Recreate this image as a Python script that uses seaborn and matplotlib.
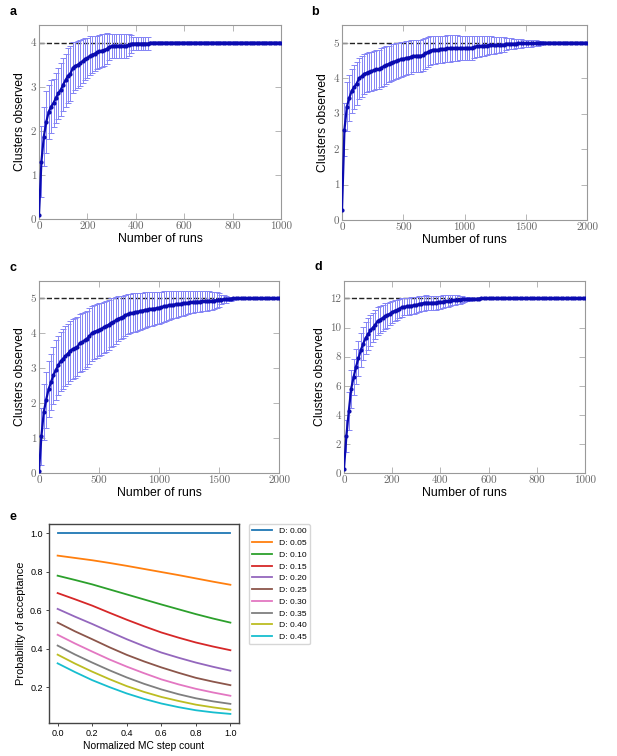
import numpy as np
import pandas as pd
import matplotlib
matplotlib.use("Agg")
import matplotlib.pyplot as plt
import seaborn as sns

# ---- panels a-d: clusters observed vs number of runs (mean and std) ----
a_runs = list(range(0, 1001, 10))
a_mean = [0.10, 1.30, 1.87, 2.20, 2.43, 2.55, 2.63, 2.75, 2.85, 2.93,
          3.05, 3.15, 3.25, 3.30, 3.43, 3.47, 3.50, 3.53, 3.58, 3.63,
          3.65, 3.70, 3.73, 3.75, 3.78, 3.80, 3.82, 3.83, 3.86, 3.90,
          3.92, 3.93, 3.93, 3.93, 3.93, 3.93, 3.93, 3.95, 3.97, 3.98,
          3.98, 3.98, 3.98, 3.98, 3.98, 3.98] + [4.00] * 55
a_std = [0.00, 0.80, 0.67, 0.70, 0.62, 0.60, 0.55, 0.57, 0.58, 0.60,
         0.60, 0.60, 0.62, 0.62, 0.58, 0.55, 0.53, 0.52, 0.50, 0.48,
         0.46, 0.44, 0.42, 0.40, 0.38, 0.38, 0.37, 0.36, 0.35, 0.30,
         0.27, 0.27, 0.27, 0.27, 0.27, 0.27, 0.27, 0.25, 0.20, 0.14,
         0.14, 0.14, 0.14, 0.14, 0.14, 0.14] + [0.00] * 55

b_runs = list(range(0, 2001, 20))
b_mean = [0.28, 2.55, 3.20, 3.45, 3.65, 3.75, 3.85, 4.00, 4.05, 4.12,
          4.15, 4.18, 4.20, 4.22, 4.25, 4.25, 4.30, 4.33, 4.37, 4.40,
          4.44, 4.46, 4.48, 4.50, 4.53, 4.55, 4.56, 4.58, 4.60, 4.63,
          4.63, 4.63, 4.63, 4.65, 4.70, 4.73, 4.77, 4.80, 4.80, 4.80,
          4.81, 4.82, 4.83, 4.84, 4.84, 4.85, 4.85, 4.85, 4.85, 4.85,
          4.85, 4.85, 4.85, 4.86, 4.88, 4.90, 4.90, 4.91, 4.92, 4.92,
          4.93, 4.93, 4.93, 4.93, 4.94, 4.94, 4.95, 4.97, 4.97, 4.97,
          4.97, 4.97, 4.98, 4.98, 4.98, 4.98, 4.98, 4.98, 4.99, 4.99,
          4.99, 5.00] + [5.00] * 19
b_std = [0.00, 0.75, 0.70, 0.65, 0.62, 0.62, 0.60, 0.58, 0.57, 0.56,
         0.55, 0.55, 0.55, 0.55, 0.55, 0.55, 0.55, 0.54, 0.53, 0.52,
         0.52, 0.51, 0.50, 0.50, 0.49, 0.48, 0.48, 0.47, 0.47, 0.46,
         0.46, 0.46, 0.45, 0.45, 0.43, 0.42, 0.41, 0.40, 0.39, 0.38,
         0.38, 0.38, 0.37, 0.37, 0.37, 0.36, 0.36, 0.36, 0.35, 0.35,
         0.35, 0.35, 0.34, 0.34, 0.32, 0.30, 0.30, 0.29, 0.28, 0.27,
         0.26, 0.25, 0.24, 0.23, 0.22, 0.21, 0.20, 0.17, 0.16, 0.15,
         0.14, 0.13, 0.12, 0.12, 0.11, 0.10, 0.10, 0.09, 0.08, 0.08,
         0.07, 0.06] + [0.00] * 19

c_runs = list(range(0, 2001, 20))
c_mean = [0.05, 1.05, 1.75, 2.10, 2.40, 2.60, 2.80, 2.95, 3.08, 3.20,
          3.27, 3.35, 3.42, 3.50, 3.55, 3.58, 3.62, 3.72, 3.75, 3.80,
          3.85, 3.92, 4.00, 4.04, 4.07, 4.10, 4.13, 4.17, 4.20, 4.25,
          4.30, 4.33, 4.37, 4.42, 4.45, 4.48, 4.52, 4.55, 4.57, 4.59,
          4.60, 4.62, 4.63, 4.65, 4.67, 4.68, 4.70, 4.70, 4.71, 4.72,
          4.73, 4.75, 4.77, 4.78, 4.80, 4.80, 4.82, 4.83, 4.84, 4.85,
          4.86, 4.87, 4.88, 4.89, 4.90, 4.90, 4.91, 4.91, 4.92, 4.92,
          4.92, 4.93, 4.93, 4.94, 4.95, 4.96, 4.97, 4.98, 4.98, 4.99,
          4.99, 5.00] + [5.00] * 19
c_std = [0.00, 0.82, 0.80, 0.80, 0.80, 0.80, 0.82, 0.85, 0.85, 0.85,
         0.85, 0.86, 0.86, 0.86, 0.86, 0.85, 0.85, 0.84, 0.83, 0.82,
         0.80, 0.80, 0.79, 0.78, 0.77, 0.76, 0.75, 0.74, 0.73, 0.72,
         0.70, 0.68, 0.66, 0.64, 0.62, 0.60, 0.59, 0.58, 0.57, 0.56,
         0.55, 0.54, 0.53, 0.52, 0.51, 0.50, 0.49, 0.48, 0.47, 0.46,
         0.45, 0.44, 0.43, 0.42, 0.41, 0.40, 0.39, 0.38, 0.37, 0.36,
         0.35, 0.34, 0.33, 0.32, 0.31, 0.30, 0.30, 0.29, 0.29, 0.28,
         0.28, 0.27, 0.26, 0.25, 0.23, 0.20, 0.13, 0.12, 0.10, 0.06,
         0.05, 0.04] + [0.00] * 19

d_runs = list(range(0, 1001, 10))
d_mean = [0.30, 2.55, 4.25, 5.80, 6.60, 7.30, 7.88, 8.45, 8.90, 9.28,
          9.55, 9.80, 10.00, 10.20, 10.45, 10.55, 10.65, 10.78, 10.85, 10.95,
          11.05, 11.15, 11.20, 11.30, 11.38, 11.43, 11.45, 11.47, 11.50, 11.52,
          11.55, 11.60, 11.65, 11.68, 11.70, 11.70, 11.70, 11.70, 11.72, 11.73,
          11.75, 11.78, 11.80, 11.82, 11.85, 11.88, 11.90, 11.92, 11.92, 11.93,
          11.93, 11.94, 11.95, 11.96, 11.97, 11.98, 11.99] + [12.00] * 44
d_std = [0.00, 1.10, 1.30, 1.30, 1.25, 1.20, 1.20, 1.15, 1.15, 1.10,
         1.08, 1.05, 1.00, 0.98, 0.95, 0.93, 0.90, 0.88, 0.85, 0.80,
         0.75, 0.72, 0.70, 0.67, 0.64, 0.60, 0.60, 0.59, 0.58, 0.57,
         0.55, 0.54, 0.53, 0.52, 0.51, 0.50, 0.50, 0.49, 0.48, 0.47,
         0.45, 0.43, 0.41, 0.40, 0.38, 0.36, 0.33, 0.30, 0.27, 0.22,
         0.17, 0.14, 0.12, 0.10, 0.08, 0.06, 0.05] + [0.00] * 44

targets = {"a": 4, "b": 5, "c": 5, "d": 12}
ylims = {"a": 4.4, "b": 5.5, "c": 5.5, "d": 13.2}
xticks = {"a": [0, 200, 400, 600, 800, 1000],
          "b": [0, 500, 1000, 1500, 2000],
          "c": [0, 500, 1000, 1500, 2000],
          "d": [0, 200, 400, 600, 800, 1000]}
yticks = {"a": [0, 1, 2, 3, 4],
          "b": [0, 1, 2, 3, 4, 5],
          "c": [0, 1, 2, 3, 4, 5],
          "d": [0, 2, 4, 6, 8, 10, 12]}

# ---- panel e: acceptance probability vs normalized MC step ----
mc_step = [0.0, 0.1, 0.2, 0.3, 0.4, 0.5, 0.6, 0.7, 0.8, 0.9, 1.0]
d_labels = ["D: 0.00", "D: 0.05", "D: 0.10", "D: 0.15", "D: 0.20",
            "D: 0.25", "D: 0.30", "D: 0.35", "D: 0.40", "D: 0.45"]
p_d000 = [1.0, 1.0, 1.0, 1.0, 1.0, 1.0, 1.0, 1.0, 1.0, 1.0, 1.0]
p_d005 = [0.883, 0.871, 0.859, 0.845, 0.830, 0.814, 0.798, 0.782, 0.765, 0.748, 0.732]
p_d010 = [0.779, 0.757, 0.734, 0.708, 0.682, 0.656, 0.630, 0.605, 0.580, 0.557, 0.536]
p_d015 = [0.689, 0.657, 0.624, 0.587, 0.551, 0.517, 0.485, 0.458, 0.433, 0.412, 0.393]
p_d020 = [0.607, 0.567, 0.529, 0.489, 0.450, 0.414, 0.381, 0.354, 0.329, 0.307, 0.287]
p_d025 = [0.536, 0.491, 0.450, 0.408, 0.369, 0.335, 0.304, 0.276, 0.250, 0.230, 0.212]
p_d030 = [0.473, 0.428, 0.386, 0.345, 0.308, 0.274, 0.242, 0.216, 0.193, 0.174, 0.157]
p_d035 = [0.417, 0.371, 0.329, 0.289, 0.252, 0.219, 0.190, 0.165, 0.144, 0.128, 0.115]
p_d040 = [0.370, 0.324, 0.282, 0.243, 0.207, 0.177, 0.151, 0.130, 0.111, 0.097, 0.085]
p_d045 = [0.325, 0.280, 0.238, 0.202, 0.169, 0.141, 0.117, 0.098, 0.082, 0.071, 0.063]
p_all = [p_d000, p_d005, p_d010, p_d015, p_d020, p_d025, p_d030, p_d035, p_d040, p_d045]

SANS = "Liberation Sans"
plt.rcParams["font.family"] = [SANS, "DejaVu Sans"]

fig = plt.figure(figsize=(6.17, 7.56), dpi=100)

positions = {"a": [0.0632, 0.7103, 0.3922, 0.2566],
             "b": [0.5543, 0.7090, 0.3971, 0.2579],
             "c": [0.0632, 0.3743, 0.3890, 0.2540],
             "d": [0.5575, 0.3743, 0.3906, 0.2540]}
series = {"a": (a_runs, a_mean, a_std),
          "b": (b_runs, b_mean, b_std),
          "c": (c_runs, c_mean, c_std),
          "d": (d_runs, d_mean, d_std)}

for key, pos in positions.items():
    ax = fig.add_axes(pos)
    runs, mean, std = series[key]
    runs = np.array(runs)
    mean = np.array(mean)
    std = np.array(std)
    ax.axhline(targets[key], ls="--", color="#222222", lw=1.0, zorder=1)
    has_err = std > 0
    ax.errorbar(runs[has_err], mean[has_err], yerr=std[has_err], fmt="none",
                ecolor="#8585f5", elinewidth=0.7, capsize=2.2, capthick=0.7, zorder=2)
    sns.lineplot(x=runs, y=mean, ax=ax, color="#0b0bb0", lw=1.6, marker="o",
                 markersize=3, markeredgewidth=0, zorder=3)
    ax.set_xlim(runs[0], runs[-1])
    ax.set_ylim(0, ylims[key])
    ax.set_xticks(xticks[key])
    ax.set_xticklabels([str(t) for t in xticks[key]], fontfamily="cmr10",
                       fontsize=8, color="#666666")
    ax.set_yticks(yticks[key])
    ax.set_yticklabels([str(t) for t in yticks[key]], fontfamily="cmr10",
                       fontsize=8, color="#666666")
    ax.tick_params(direction="in", top=True, right=True, length=4, width=0.6,
                   color="#aaaaaa", pad=2)
    for sp in ax.spines.values():
        sp.set_color("#999999")
        sp.set_linewidth(0.8)
    ax.set_xlabel("Number of runs", fontsize=8.8, labelpad=1)
    ax.set_ylabel("Clusters observed", fontsize=8.8, labelpad=3)

# panel e
ax_e = fig.add_axes([0.0794, 0.0437, 0.3080, 0.2632])
rows = []
for lab, vals in zip(d_labels, p_all):
    for s, p in zip(mc_step, vals):
        rows.append({"step": s, "prob": p, "D": lab})
df_e = pd.DataFrame(rows)
sns.lineplot(data=df_e, x="step", y="prob", hue="D", hue_order=d_labels,
             palette="tab10", lw=1.3, ax=ax_e)
ax_e.set_xticks([0.0, 0.2, 0.4, 0.6, 0.8, 1.0])
ax_e.set_yticks([0.2, 0.4, 0.6, 0.8, 1.0])
ax_e.tick_params(labelsize=6.5, length=2.5, width=0.7, pad=2, color="#444444")
for sp in ax_e.spines.values():
    sp.set_color("#444444")
    sp.set_linewidth(1.0)
ax_e.set_xlabel("Normalized MC step count", fontsize=7.4, labelpad=2)
ax_e.set_ylabel("Probability of acceptance", fontsize=7.9, labelpad=3)
sns.move_legend(ax_e, "upper left", bbox_to_anchor=(1.05, 1.0), borderaxespad=0,
                title=None, fontsize=6.1, frameon=True, handlelength=2.4,
                labelspacing=0.45)

# panel letters
for letter, (fx, fy) in {"a": (0.016, 0.984), "b": (0.505, 0.984),
                         "c": (0.016, 0.646), "d": (0.509, 0.647),
                         "e": (0.016, 0.316)}.items():
    fig.text(fx, fy, letter, fontsize=9, fontweight="bold", va="center", ha="left")

fig.savefig("out.png", dpi=100)
